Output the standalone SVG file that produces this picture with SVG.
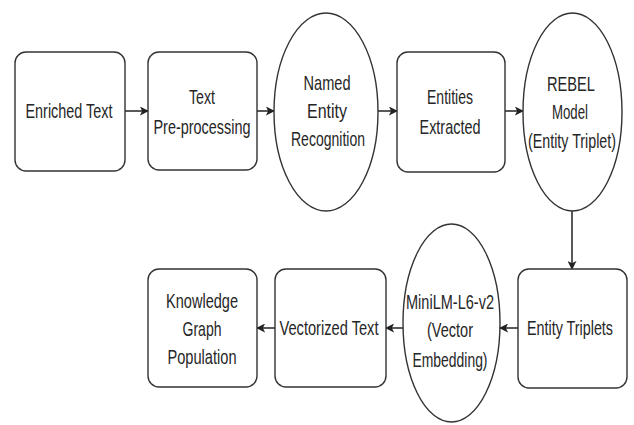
<svg xmlns="http://www.w3.org/2000/svg" width="634" height="425" viewBox="0 0 634 425">
<style>
.n{fill:#fff;stroke:#333;stroke-width:1.4}
.t{font-family:"Liberation Sans",Arial,sans-serif;font-size:21px;fill:#262626;text-anchor:middle}
.c{stroke:#222;stroke-width:1.5;fill:none}
</style>
<defs>
<marker id="ah" viewBox="0 0 10 10" refX="9" refY="5" markerWidth="9" markerHeight="9" markerUnits="userSpaceOnUse" orient="auto">
<path d="M0,0 L10,5 L0,10 L2.5,5 Z" fill="#222"/>
</marker>
</defs>
<rect width="634" height="425" fill="#fff"/>
<g id="connectors">
<line class="c" x1="125" y1="111" x2="148" y2="111" marker-end="url(#ah)"/>
<line class="c" x1="257" y1="111" x2="274" y2="111" marker-end="url(#ah)"/>
<line class="c" x1="378" y1="111" x2="397" y2="111" marker-end="url(#ah)"/>
<line class="c" x1="505" y1="111" x2="523" y2="111" marker-end="url(#ah)"/>
<line class="c" x1="572" y1="211" x2="572" y2="269" marker-end="url(#ah)"/>
<line class="c" x1="518" y1="328" x2="500" y2="328" marker-end="url(#ah)"/>
<line class="c" x1="403" y1="328" x2="386" y2="328" marker-end="url(#ah)"/>
<line class="c" x1="275" y1="328" x2="257" y2="328" marker-end="url(#ah)"/>
</g>
<g id="enriched">
<rect class="n" x="15" y="52" width="110" height="119" rx="11"/>
<text class="t" x="69" y="118" textLength="87" lengthAdjust="spacingAndGlyphs">Enriched Text</text>
</g>
<g id="preproc">
<rect class="n" x="148" y="52" width="109" height="118" rx="11"/>
<text class="t" x="202" y="104" textLength="26" lengthAdjust="spacingAndGlyphs">Text</text>
<text class="t" x="202" y="134" textLength="97" lengthAdjust="spacingAndGlyphs">Pre-processing</text>
</g>
<g id="ner">
<ellipse class="n" cx="326" cy="112" rx="52" ry="99"/>
<text class="t" x="327" y="90" textLength="47" lengthAdjust="spacingAndGlyphs">Named</text>
<text class="t" x="327" y="118" textLength="40" lengthAdjust="spacingAndGlyphs">Entity</text>
<text class="t" x="328" y="146" textLength="74" lengthAdjust="spacingAndGlyphs">Recognition</text>
</g>
<g id="extracted">
<rect class="n" x="397" y="52" width="108" height="120" rx="11"/>
<text class="t" x="450" y="104" textLength="46" lengthAdjust="spacingAndGlyphs">Entities</text>
<text class="t" x="450" y="134" textLength="61" lengthAdjust="spacingAndGlyphs">Extracted</text>
</g>
<g id="rebel">
<ellipse class="n" cx="572.5" cy="112" rx="49.5" ry="99"/>
<text class="t" x="571" y="91" textLength="48" lengthAdjust="spacingAndGlyphs">REBEL</text>
<text class="t" x="570" y="119" textLength="36" lengthAdjust="spacingAndGlyphs">Model</text>
<text class="t" x="572" y="148" textLength="88" lengthAdjust="spacingAndGlyphs">(Entity Triplet)</text>
</g>
<g id="triplets">
<rect class="n" x="518" y="269" width="109" height="119" rx="11"/>
<text class="t" x="570" y="335" textLength="86" lengthAdjust="spacingAndGlyphs">Entity Triplets</text>
</g>
<g id="minilm">
<ellipse class="n" cx="451.5" cy="323" rx="48.5" ry="99"/>
<text class="t" x="450" y="309" textLength="88" lengthAdjust="spacingAndGlyphs">MiniLM-L6-v2</text>
<text class="t" x="450" y="337" textLength="46" lengthAdjust="spacingAndGlyphs">(Vector</text>
<text class="t" x="450" y="367" textLength="75" lengthAdjust="spacingAndGlyphs">Embedding)</text>
</g>
<g id="vectorized">
<rect class="n" x="275" y="269" width="111" height="118" rx="11"/>
<text class="t" x="329" y="335" textLength="99" lengthAdjust="spacingAndGlyphs">Vectorized Text</text>
</g>
<g id="kg">
<rect class="n" x="148" y="269" width="109" height="118" rx="11"/>
<text class="t" x="202" y="308" textLength="72" lengthAdjust="spacingAndGlyphs">Knowledge</text>
<text class="t" x="202" y="336" textLength="39" lengthAdjust="spacingAndGlyphs">Graph</text>
<text class="t" x="202" y="364" textLength="69" lengthAdjust="spacingAndGlyphs">Population</text>
</g>
</svg>
